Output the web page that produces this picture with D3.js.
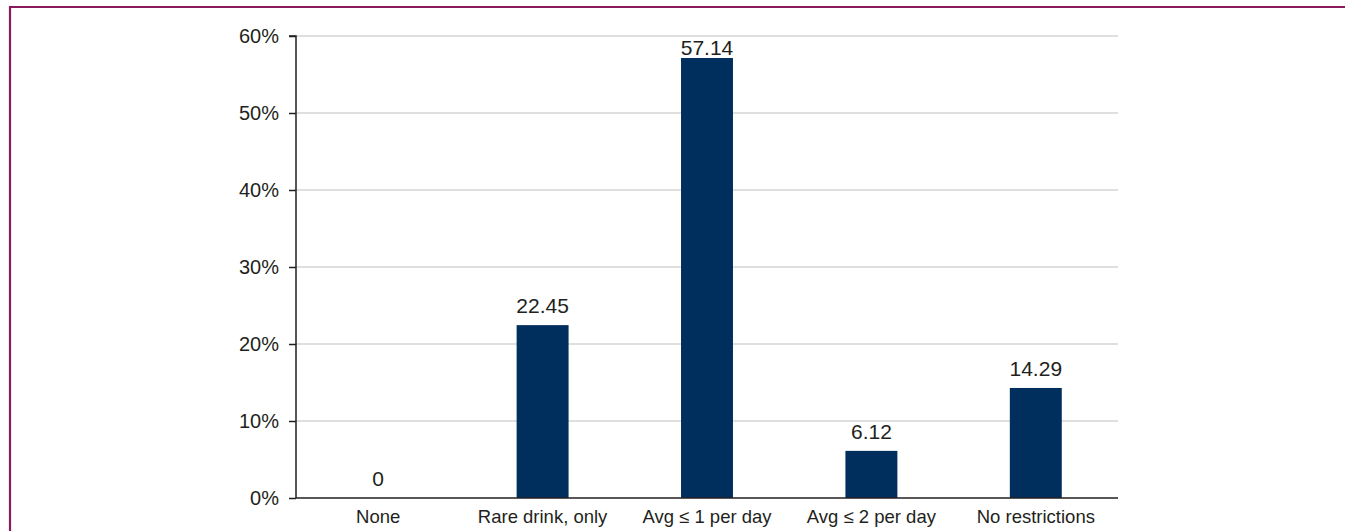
<!DOCTYPE html>
<html><head><meta charset="utf-8">
<script src="https://cdn.jsdelivr.net/npm/d3@7"></script>
<style>
html,body{margin:0;padding:0;background:#fff;}
svg{display:block;font-family:"Liberation Sans",Arial,Helvetica,sans-serif;}
</style></head>
<body>
<script>
const categories = ["None", "Rare drink, only", "Avg \u2264 1 per day", "Avg \u2264 2 per day", "No restrictions"];
const values = [0, 22.45, 57.14, 6.12, 14.29];
const valueLabels = ["0", "22.45", "57.14", "6.12", "14.29"];
const yTicks = [0, 10, 20, 30, 40, 50, 60];

const W = 1345, H = 531;
const svg = d3.select("body").append("svg").attr("width", W).attr("height", H);

// frame
svg.append("line").attr("x1", 10).attr("x2", W).attr("y1", 7).attr("y2", 7)
  .attr("stroke", "#8a1a5b").attr("stroke-width", 2.2);
svg.append("line").attr("x1", 10).attr("x2", 10).attr("y1", 6).attr("y2", H)
  .attr("stroke", "#8a1a5b").attr("stroke-width", 2.2);

const mLeft = 296, mRight = 1118, mTop = 36, mBottom = 498;
const x = d3.scaleBand().domain(categories).range([mLeft, mRight]).paddingInner(0.684).paddingOuter(0.342);
const y = d3.scaleLinear().domain([0, 60]).range([mBottom, mTop]);

// gridlines
svg.append("g").selectAll("line").data(yTicks.filter(d => d > 0)).join("line")
  .attr("x1", mLeft).attr("x2", mRight).attr("y1", d => y(d)).attr("y2", d => y(d))
  .attr("stroke", "#d4d4d4").attr("stroke-width", 1.5);

// bars
svg.append("g").selectAll("rect").data(values).join("rect")
  .attr("x", (d, i) => x(categories[i]))
  .attr("width", x.bandwidth())
  .attr("y", d => y(d))
  .attr("height", d => y(0) - y(d))
  .attr("fill", "#002e5d");

// value labels
svg.append("g").selectAll("text").data(values).join("text")
  .attr("x", (d, i) => x(categories[i]) + x.bandwidth() / 2)
  .attr("y", d => Math.max(y(d) - 12, mTop + 19))
  .attr("text-anchor", "middle")
  .attr("font-size", 21).attr("fill", "#231f20")
  .text((d, i) => valueLabels[i]);

// y axis
const yAxis = d3.axisLeft(y).tickValues(yTicks).tickFormat(d => d + "%").tickSize(7).tickPadding(10);
const gy = svg.append("g").attr("transform", `translate(${mLeft},0)`).call(yAxis);
gy.select(".domain").attr("stroke", "#231f20").attr("stroke-width", 1.5).attr("d", `M-7,${mTop}H0V${mBottom}`);
gy.selectAll(".tick line").attr("stroke", "#231f20").attr("stroke-width", 1.5);
gy.selectAll(".tick text").attr("font-size", 20).attr("fill", "#231f20")
  .attr("font-family", "Liberation Sans,Arial,sans-serif");

// x axis
const xAxis = d3.axisBottom(x).tickSize(0).tickPadding(12);
const gx = svg.append("g").attr("transform", `translate(0,${mBottom})`).call(xAxis);
gx.select(".domain").attr("stroke", "#231f20").attr("stroke-width", 1.5).attr("d", `M${mLeft},0H${mRight}`);
gx.selectAll(".tick text").attr("font-size", 18.5).attr("fill", "#231f20")
  .attr("font-family", "Liberation Sans,Arial,sans-serif");
</script>
</body></html>
